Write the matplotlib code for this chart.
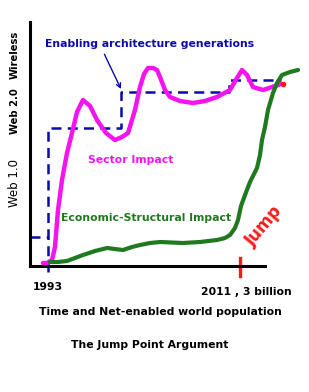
import matplotlib
matplotlib.use('Agg')
from matplotlib import pyplot as plt

# data (arbitrary units: time along x, impact along y)
sector_x = [13, 17, 22, 25, 28, 32, 37, 42, 47, 53, 60, 67, 76, 85, 92, 98, 105, 110, 114, 118,
            123, 127, 130, 135, 140, 150, 163, 175, 187, 200, 207, 212, 217, 223, 233, 245, 251]
sector_y = [3, 3, 6, 19, 56, 86, 113, 133, 154, 166, 160, 146, 133, 126, 129, 133, 156, 179, 192, 198,
            198, 196, 189, 176, 169, 165, 163, 165, 169, 176, 188, 196, 191, 179, 176, 180, 182]

econ_x = [20, 28, 37, 45, 53, 65, 77, 85, 93, 102, 110, 120, 130, 153, 170, 187, 195, 200, 205, 208,
          211, 215, 220, 227, 230, 232, 235, 238, 243, 247, 252, 260, 268]
econ_y = [4, 4, 5, 8, 11, 15, 18, 17, 16, 19, 21, 23, 24, 23, 24, 26, 28, 31, 38, 46,
          60, 71, 84, 98, 111, 126, 139, 156, 173, 183, 191, 194, 196]

arch_x = [0, 18, 18, 91, 91, 199, 199, 251]
arch_y = [29, 29, 138, 138, 174, 174, 186, 186]

gen_labels = ['Web 1.0', 'Web 2.0', 'Wireless']
gen_pos = [83, 155, 211]

start_x = 18    # 1993
jump_x = 210    # 2011, 3 billion

magenta = '#f514f0'
green = '#1f7a1f'
navy = '#0a0aa8'
red = '#ff1a1a'
fs = 7.8

fig = plt.figure(figsize=(3.09, 3.92), dpi=100)
ax = fig.add_axes([30 / 309, 126 / 392, 235 / 309, 244 / 392])
ax.set_xlim(0, 235)
ax.set_ylim(0, 244)
for s in ['top', 'right']:
    ax.spines[s].set_visible(False)
for s in ['left', 'bottom']:
    ax.spines[s].set_linewidth(2.2)
ax.set_xticks([])
ax.set_yticks([])

# architecture generations (dashed steps)
ax.plot(arch_x, arch_y, color=navy, lw=1.8, ls=(0, (4, 2.5)), clip_on=False)
ax.plot([start_x, start_x], [-6, 29], color=navy, lw=1.8, ls=(0, (4, 2.5)), clip_on=False)

ax.plot(sector_x, sector_y, color=magenta, lw=3.2, solid_capstyle='round', clip_on=False, zorder=3)
ax.plot(econ_x, econ_y, color=green, lw=3, solid_capstyle='round', clip_on=False, zorder=3)
ax.plot([sector_x[-1] + 2], [sector_y[-1]], 'o', color=red, ms=3, clip_on=False, zorder=4)

# jump marker
ax.plot([jump_x, jump_x], [8, -10], color=red, lw=2.4, clip_on=False)
ax.text(234, 40, 'Jump', color=red, fontsize=12, fontweight='bold', rotation=50,
        ha='center', va='center')

ax.annotate('Enabling architecture generations', xy=(91, 177), xytext=(120, 222),
            color=navy, fontsize=fs, fontweight='bold', ha='center', va='center',
            arrowprops=dict(arrowstyle='->', color=navy, lw=1, shrinkA=2, shrinkB=0,
                            relpos=(0.27, 0.0)))
ax.text(101, 106, 'Sector Impact', color=magenta, fontsize=fs, fontweight='bold',
        ha='center', va='center')
ax.text(116, 48, 'Economic-Structural Impact', color=green, fontsize=fs, fontweight='bold',
        ha='center', va='center')

for lab, p in zip(gen_labels, gen_pos):
    w = 'normal' if lab == 'Web 1.0' else 'bold'
    size = 8.5 if lab == 'Web 1.0' else 7.2
    ax.text(-15, p, lab, rotation=90, fontsize=size, fontweight=w, ha='center', va='center')

ax.text(start_x, -21, '1993', fontsize=fs, fontweight='bold', ha='center', va='center')
ax.text(216, -26, '2011 , 3 billion', fontsize=fs, fontweight='bold', ha='center', va='center')
ax.text(130, -46, 'Time and Net-enabled world population', fontsize=fs, fontweight='bold',
        ha='center', va='center')
ax.text(120, -79, 'The Jump Point Argument', fontsize=fs, fontweight='bold',
        ha='center', va='center')

fig.savefig('out.png', dpi=100)
